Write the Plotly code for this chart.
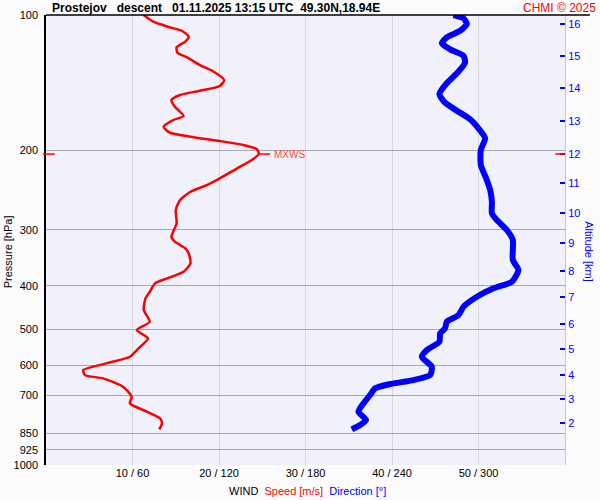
import numpy as np
import plotly.graph_objects as go

# wind speed profile [m/s] vs pressure [hPa]
speed_p = [100, 103.5, 106.5, 108.4, 111.7, 114.6, 118.0, 121.3, 124.2, 129.2, 133.7, 139.5,
           143.8, 147.3, 150.6, 154.5, 159.9, 167.7, 171.2, 177.1, 182.6, 186.4, 190.6, 194.5,
           198.8, 203.7, 210.0, 219.1, 230.6, 238.7, 247.0, 257.7, 271.3, 290.4, 311.0, 319.0,
           330.0, 338.6, 356.3, 372.0, 384.8, 394.8, 412.1, 426.2, 452.6, 480.5, 501.3, 523.1,
           550.5, 574.7, 594.5, 615.3, 631.2, 642.0, 670.1, 705.3, 729.5, 761.6, 787.8, 808.2,
           833.3]
speed = [11.3, 12.4, 14.3, 15.7, 16.5, 16.1, 15.1, 15.2, 16.3, 17.8, 19.4, 20.6,
         20.1, 17.8, 15.5, 14.5, 14.9, 15.9, 14.7, 13.6, 14.3, 16.7, 20.1, 22.8,
         24.4, 24.6, 23.8, 22.1, 20.1, 18.6, 16.7, 15.5, 15.0, 15.1, 14.5, 14.9,
         16.1, 16.5, 16.7, 15.9, 14.0, 12.6, 12.0, 11.5, 11.3, 12.0, 10.5, 11.8,
         10.7, 9.7, 7.0, 4.3, 4.5, 6.6, 8.9, 9.9, 9.7, 11.7, 13.2, 13.4,
         13.1]

# wind direction profile [deg] vs pressure [hPa]
dir_p = [100, 101.7, 104.7, 108.4, 112.1, 115.6, 119.2, 123.3, 127.6, 134.8, 141.8, 149.8,
         156.6, 163.2, 170.5, 178.6, 187.9, 199.5, 215.5, 230.6, 244.9, 260.0, 275.9, 285.5,
         300.5, 316.3, 350.4, 368.8, 391.5, 405.0, 422.8, 444.9, 464.3, 480.5, 497.0, 509.8,
         532.2, 555.3, 574.7, 605.0, 631.2, 647.6, 660.9, 675.5, 699.1, 729.5, 761.6, 794.6,
         815.2, 833.3]
direction = [282.6, 289.6, 291.9, 287.3, 278.0, 274.6, 280.3, 289.6, 290.7, 285.0, 278.0, 272.9,
             276.8, 285.0, 294.2, 300.0, 304.6, 301.6, 301.6, 305.3, 308.1, 309.3, 309.3, 312.7,
             319.7, 323.8, 323.8, 327.7, 323.2, 310.4, 298.9, 289.6, 286.1, 278.0, 276.8, 273.4,
             272.9, 264.2, 260.7, 267.6, 266.5, 254.9, 238.7, 228.3, 224.8, 220.2, 216.7, 222.0,
             217.9, 212.1]

p_ticks = [100, 200, 300, 400, 500, 600, 700, 850, 925, 1000]
x_ticks = [10, 20, 30, 40, 50]
x_labels = ["10 / 60", "20 / 120", "30 / 180", "40 / 240", "50 / 300"]

alt_km = [16, 15, 14, 13, 12, 11, 10, 9, 8, 7, 6, 5, 4, 3, 2]
alt_p = [104.7, 123.3, 145.5, 171.8, 203.7, 236.6, 275.9, 320.7, 370.1, 424.1, 486.2,
         553.3, 631.2, 714.7, 808.2]

mxws_p = 203.7
mxws_speed = 24.6

FONT = "Arial, Liberation Sans, sans-serif"

fig = go.Figure()
fig.add_trace(go.Scatter(x=speed, y=speed_p, mode="lines", xaxis="x", yaxis="y",
                         line=dict(color="#ff0000", width=2.5, shape="spline", smoothing=0.6),
                         hoverinfo="skip"))
fig.add_trace(go.Scatter(x=direction, y=dir_p, mode="lines", xaxis="x2", yaxis="y",
                         line=dict(color="#0000ff", width=6, shape="spline", smoothing=0.6),
                         hoverinfo="skip"))
# dummy trace so the altitude axis is drawn
fig.add_trace(go.Scatter(x=[None], y=[None], xaxis="x", yaxis="y2", showlegend=False))

fig.update_layout(
    width=600, height=500,
    margin=dict(l=46, r=35, t=15, b=35),
    paper_bgcolor="#fbfbfb", plot_bgcolor="#f1f1fc",
    showlegend=False,
    font=dict(family=FONT, size=11, color="#000000"),
    xaxis=dict(range=[0, 60], tickvals=x_ticks, ticktext=x_labels, showgrid=True,
               gridcolor="#d9d9d9", gridwidth=1, zeroline=False, showline=False,
               ticks="", tickfont=dict(size=11), automargin=False),
    xaxis2=dict(range=[0, 360], overlaying="x", visible=False),
    yaxis=dict(type="log", range=[3, 2], tickvals=p_ticks, ticktext=[str(v) for v in p_ticks],
               showgrid=True, gridcolor="#a9a9a9", gridwidth=1, zeroline=False,
               showline=True, linecolor="#000000", linewidth=1.5, ticks="",
               ticklabelstandoff=4, tickfont=dict(size=11), automargin=False),
    yaxis2=dict(type="log", range=[3, 2], overlaying="y", side="right",
                tickvals=alt_p, ticktext=[str(v) for v in alt_km],
                showgrid=False, zeroline=False, showline=True, linecolor="#c8c8c8",
                ticks="inside", ticklen=5, tickcolor="#0000ff", tickwidth=1.5,
                tickfont=dict(size=11, color="#0000ff"), automargin=False),
)

# header underline
fig.add_shape(type="line", xref="paper", yref="paper", x0=0, x1=1.048, y0=1, y1=1,
              line=dict(color="#000000", width=1.5))
# max wind level markers
fig.add_shape(type="line", xref="paper", yref="y", x0=-0.006, x1=0.017, y0=mxws_p, y1=mxws_p,
              line=dict(color="#ff0000", width=1.5))
fig.add_shape(type="line", xref="paper", yref="y", x0=0.981, x1=1.0, y0=mxws_p, y1=mxws_p,
              line=dict(color="#ff0000", width=1.5))
fig.add_shape(type="line", xref="x", yref="y", x0=mxws_speed, x1=mxws_speed + 1.3,
              y0=mxws_p, y1=mxws_p, line=dict(color="#ff0000", width=1.5))
fig.add_annotation(x=mxws_speed + 1.5, y=np.log10(mxws_p), xref="x", yref="y",
                   text="MXWS", showarrow=False, xanchor="left", yanchor="middle",
                   font=dict(size=10, color="#ff4a4a"))

fig.add_annotation(x=0.0077, y=1.0156, xref="paper", yref="paper", xanchor="left",
                   yanchor="middle", showarrow=False,
                   text="<b>Prostejov\u00a0\u00a0 descent\u00a0\u00a0 01.11.2025 13:15 UTC\u00a0 49.30N,18.94E</b>",
                   font=dict(size=12, color="#000000"))
fig.add_annotation(x=1.0636, y=1.0156, xref="paper", yref="paper", xanchor="right",
                   yanchor="middle", showarrow=False, text="CHMI © 2025",
                   font=dict(size=12, color="#ff0000"))
fig.add_annotation(x=-0.073, y=0.473, xref="paper", yref="paper", textangle=-90,
                   xanchor="center", yanchor="middle",
                   showarrow=False, text="Pressure [hPa]", font=dict(size=11))
fig.add_annotation(x=1.046, y=0.473, xref="paper", yref="paper", textangle=90,
                   xanchor="center", yanchor="middle",
                   showarrow=False, text="Altitude [km]", font=dict(size=11, color="#0000ff"))
fig.add_annotation(x=0.503, y=-0.0578, xref="paper", yref="paper", yanchor="middle",
                   xanchor="center", showarrow=False,
                   text="WIND\u00a0 <span style='color:#ff0000'>Speed [m/s]</span>\u00a0 "
                        "<span style='color:#0000ff'>Direction [°]</span>",
                   font=dict(size=11))

# drop the default page margin so the figure sits at the window corner
fig.write_html("out.html", config={"displayModeBar": False},
               post_script="document.body.style.margin='0';")
